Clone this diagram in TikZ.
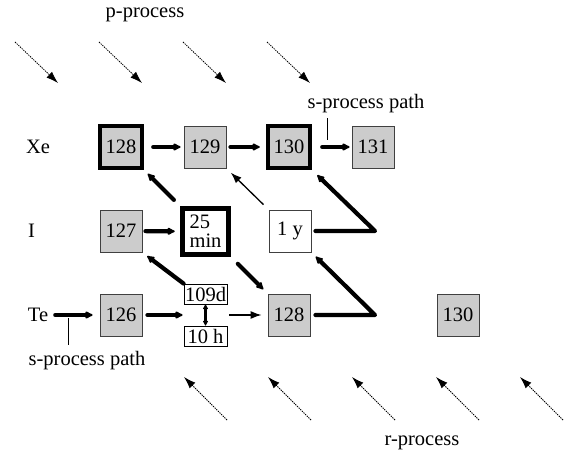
\documentclass[tikz,border=0pt]{standalone}
\usepackage{fontspec}
\setmainfont{Liberation Serif}
\usetikzlibrary{arrows.meta,calc}
\begin{document}
\begin{tikzpicture}[x=1pt,y=-1pt,
  every node/.style={font=\fontsize{20.5}{19}\selectfont},
  iso/.style={draw=black!75, fill=gray!40, minimum size=42pt, inner sep=0pt, line width=0.9pt},
  stable/.style={iso, draw=black, line width=4.5pt},
  halfbox/.style={draw=black!75, fill=white, minimum size=42pt, inner sep=0pt, line width=0.9pt},
  tagbox/.style={draw, fill=white, minimum width=43pt, minimum height=20pt, inner sep=0.5pt, line width=0.9pt},
  lbl/.style={inner sep=1pt},
  flow/.style={line width=4.2pt, line cap=round, line join=round, -{Latex[round,length=9pt,width=9pt]}},
  weak/.style={line width=1.3pt, -{Latex[length=11pt,width=8pt]}},
  both/.style={line width=2.4pt, {Latex[round,length=6pt,width=6pt]}-{Latex[round,length=6pt,width=6pt]}},
  proc/.style={dash pattern=on 1.4pt off 0.9pt, line width=0.8pt, -{Latex[length=12pt,width=8pt]}},
  leader/.style={line width=0.6pt}
]
\useasboundingbox (0,0) rectangle (576,457);

% row labels
\node[lbl] (Xe) at (38,147) {Xe};
\node[lbl, anchor=west] (I) at (27,231) {I};
\node[lbl] (Te) at (38,315) {Te};

% Xe row
\node[stable] (x128) at (121,147) {128};
\node[iso] (x129) at (205,147) {129};
\node[stable] (x130) at (289,147) {130};
\node[iso] (x131) at (373,147) {131};
% I row
\node[iso] (i127) at (121,231) {127};
\node[halfbox, draw=black, line width=4.5pt, minimum size=46pt, align=left] (i25) at (205.5,231.5) {25\\min};
\node[halfbox] (i1y) at (290,231) {1 y};
% Te row
\node[iso] (t126) at (121,315) {126};
\node[tagbox] (d109) at (205.5,294) {109d};
\node[tagbox] (h10) at (205.5,336) {10 h};
\node[iso] (t128) at (289,315) {128};
\node[iso] (t130) at (458,315) {130};

\coordinate (bw) at ($(d109.west)!0.5!(h10.west)$);
\coordinate (be) at ($(d109.east)!0.5!(h10.east)$);
\coordinate (k1) at (375,231);
\coordinate (k2) at (375,315);

% texts
\node[lbl] (pp) at (145,15) {p-process};
\node[lbl] (sp1) at (366,104) {s-process path};
\node[lbl] (sp2) at (87,361) {s-process path};
\node[lbl] (rp) at (422,443) {r-process};

% horizontal flows
\draw[flow, shorten <=9pt, shorten >=3pt] (x128) -- (x129);
\draw[flow, shorten <=4pt, shorten >=6pt] (x129) -- (x130);
\draw[flow, shorten <=10pt, shorten >=2pt] (x130) -- (x131);
\draw[flow, shorten <=6pt, shorten >=7pt] (Te) -- (t126);
\draw[flow, shorten <=3pt, shorten >=5.5pt] (i127) -- (i25);
\draw[flow, shorten <=5pt, shorten >=1pt] (t126) -- (bw);
\draw[weak, shorten <=2pt, shorten >=6pt] (be) -- (t128);
\draw[both] (d109.south) -- (h10.north);

% diagonal flows
\draw[flow, shorten <=9pt, shorten >=5pt] (i25.north west) -- (x128.south east);
\draw[weak, shorten <=7pt, shorten >=6pt] (i1y.north west) -- (x129.south east);
\draw[flow, shorten <=4pt, shorten >=7pt] (i1y.east) -- (k1) -- (x130.south east);
\draw[flow, shorten <=5pt, shorten >=6pt] (t128.east) -- (k2) -- (i1y.south east);
\draw[flow, shorten <=0pt, shorten >=6pt] (d109.north west) -- (i127.south east);
\draw[flow, shorten <=10pt, shorten >=6pt] (i25.south east) -- (t128.north west);

% leaders
\draw[leader] ($(sp1.south)+(-39,4)$) -- ++(0,22);
\draw[leader] ($(sp2.north)+(-19,-6)$) -- ++(0,-27);

% process arrows
\foreach \k in {0,...,3} \draw[proc] (15+84*\k,42) -- (58+84*\k,83);
\foreach \k in {0,...,4} \draw[proc] (227+84*\k,420) -- (184+84*\k,377);
\end{tikzpicture}
\end{document}
